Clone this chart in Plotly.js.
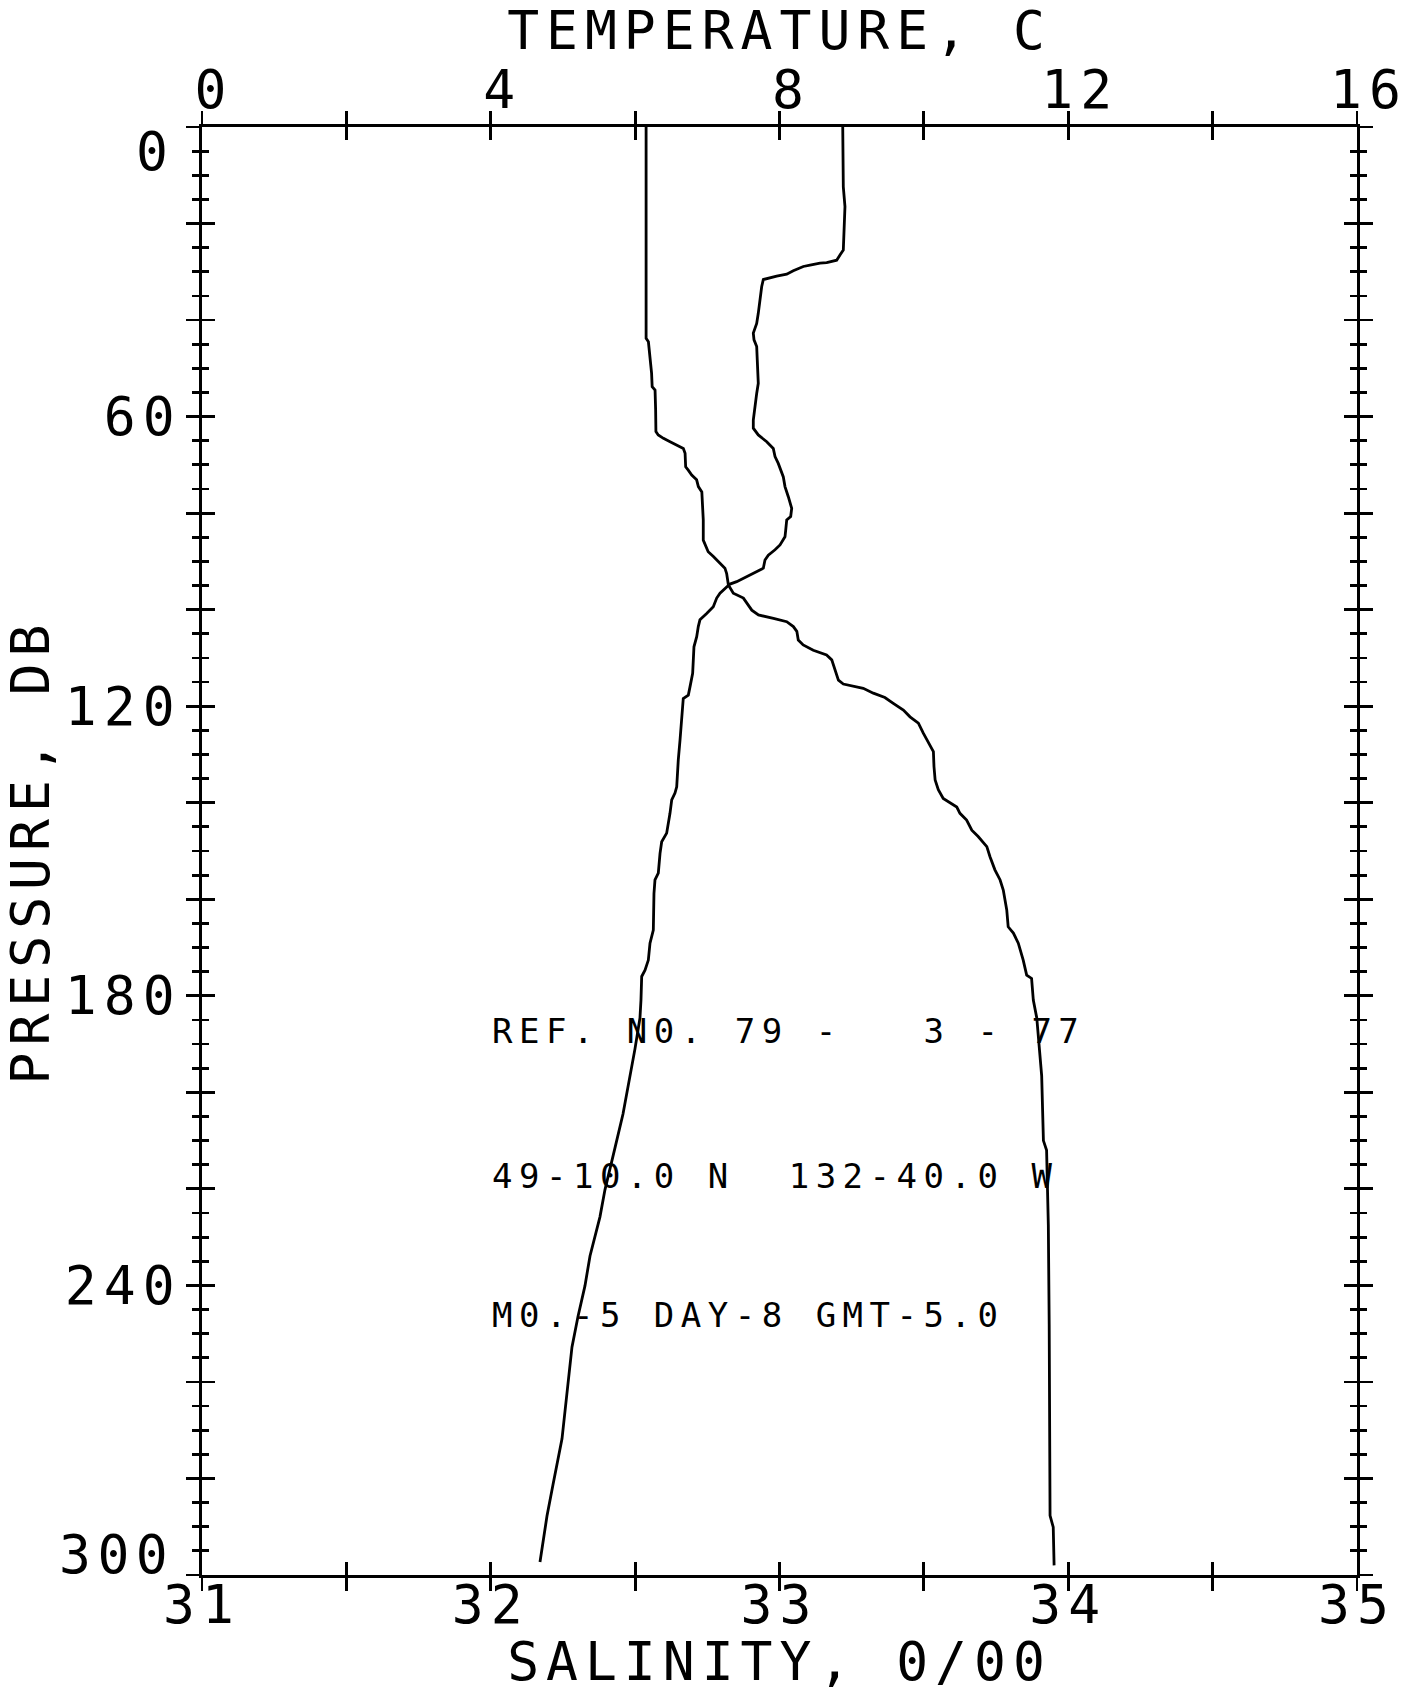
<!DOCTYPE html>
<html>
<head>
<meta charset="utf-8">
<script src="https://cdn.plot.ly/plotly-3.0.1.min.js"></script>
<style>
  html, body { margin: 0; padding: 0; background: #fff; }
  #chart { width: 1409px; height: 1692px; }
  g.xtick text, g.x2tick text, g.ytick text { letter-spacing: 7px; }
  text.xtitle, text.x2title, text.ytitle { letter-spacing: 7px; }
  text.annotation-text { letter-spacing: 6.5px; }
</style>
</head>
<body>
<div id="chart"></div>
<script>
// ---- Salinity profile (bottom axis, 0/00) ----
const salPressure = [0, 43.8, 44.5, 46.9, 51.0, 53.8, 54.5, 58.6, 63.1, 63.8, 64.5, 65.2, 65.7, 66.6, 67.6, 70.4, 71.1, 72.1, 73.1, 74.5, 75.6, 78.0, 81.4, 85.6, 87.0, 88.0, 89.0, 90.4, 91.4, 92.5, 93.9, 94.9,
  96.6, 97.6, 100.1, 101.1, 101.8, 102.5, 103.5, 104.5, 106.3, 107.3, 108.4, 109.4, 110.4, 112.5, 114.6, 115.4, 115.8, 116.3, 117.3, 118.2, 119.4, 120.8, 122.2, 123.5, 125.6, 128.0, 129.4, 132.5, 135.3, 137.3, 139.1, 140.9, 142.2, 143.6, 145.7, 147.0, 149.1, 151.2, 153.9, 156.0, 158.1, 162.2, 165.7, 167.0, 169.1, 172.6, 175.7, 176.4, 180.9,
  184.6, 196.6, 210.0, 212.0, 227.5, 248.1, 287.7, 290.1, 298.0];
const salinity = [32.538, 32.538, 32.546, 32.551, 32.557, 32.559, 32.569, 32.571, 32.572, 32.580, 32.598, 32.621, 32.638, 32.667, 32.673, 32.675, 32.684, 32.696, 32.713, 32.719, 32.731, 32.734, 32.736, 32.736, 32.745, 32.753, 32.771, 32.794, 32.811, 32.817, 32.819, 32.823,
  32.840, 32.875, 32.904, 32.927, 32.979, 33.025, 33.048, 33.060, 33.065, 33.082, 33.117, 33.163, 33.181, 33.192, 33.204, 33.221, 33.256, 33.290, 33.325, 33.365, 33.394, 33.429, 33.452, 33.481, 33.498, 33.521, 33.533, 33.535, 33.539, 33.550, 33.567, 33.614, 33.625, 33.648, 33.666, 33.688, 33.718, 33.729, 33.746, 33.764, 33.775, 33.787, 33.792, 33.810, 33.827, 33.844, 33.856, 33.873, 33.879,
  33.891, 33.908, 33.914, 33.925, 33.931, 33.934, 33.937, 33.948, 33.951];

// ---- Temperature profile (top axis, C) ----
const tempPressure = [0, 12.4, 16.5, 20.7, 25.5, 26.5, 27.6, 28.1, 28.2, 28.6, 28.9, 29.8, 30.5, 30.9, 31.6, 33.1, 36.5, 38.6, 40.7, 42.7, 44.1, 45.5, 48.3, 53.1, 55.2, 57.9, 60.7, 62.4, 63.8, 65.2, 66.6, 68.3, 69.7, 72.5, 74.5, 76.6, 79.0, 80.7, 81.4, 83.5, 84.9, 86.6, 87.6, 88.7, 89.7, 91.4, 92.5, 93.2, 94.2, 94.7,
  95.6, 96.6, 97.6, 99.4, 100.8, 102.1, 103.5, 105.6, 107.7, 110.4, 113.2, 116.0, 117.7, 118.4, 120.1, 124.2, 127.0, 131.1, 136.7, 138.0, 139.4, 142.2, 146.3, 148.1, 150.5, 154.6, 156.0, 158.8, 166.4, 169.1, 172.6, 174.7, 176.0, 180.9,
  184.6, 191.0, 196.6, 204.5, 211.5, 220.2, 225.8, 233.9, 240.1, 246.5, 252.8, 260.0, 271.8, 281.3, 287.8, 297.3];
const temperature = [8.876, 8.884, 8.907, 8.893, 8.884, 8.838, 8.792, 8.654, 8.561, 8.423, 8.330, 8.191, 8.100, 7.961, 7.776, 7.753, 7.730, 7.706, 7.684, 7.637, 7.647, 7.684, 7.692, 7.706, 7.684, 7.661, 7.637, 7.637, 7.706, 7.823, 7.914, 7.938, 7.983, 8.053, 8.076, 8.122, 8.169, 8.155, 8.100, 8.086, 8.076, 8.007, 7.938, 7.845, 7.799, 7.776, 7.637, 7.546, 7.407, 7.314,
  7.245, 7.176, 7.130, 7.083, 6.991, 6.898, 6.875, 6.853, 6.815, 6.806, 6.797, 6.760, 6.737, 6.667, 6.659, 6.645, 6.622, 6.598, 6.576, 6.552, 6.507, 6.483, 6.437, 6.368, 6.345, 6.321, 6.275, 6.261, 6.252, 6.206, 6.183, 6.137, 6.091, 6.081,
  6.067, 5.998, 5.929, 5.832, 5.721, 5.582, 5.513, 5.375, 5.305, 5.208, 5.125, 5.070, 4.987, 4.862, 4.779, 4.682];

// ---- Axis ticks ----
const pressureTicks = [0, 20, 40, 60, 80, 100, 120, 140, 160, 180, 200, 220, 240, 260, 280, 300];
const pressureLabels = ['0', '', '', '60', '', '', '120', '', '', '180', '', '', '240', '', '', '300'];
const tempTicks = [0, 2, 4, 6, 8, 10, 12, 14, 16];
const tempLabels = ['0', '', '4', '', '8', '', '12', '', '16'];
const salTicks = [31, 31.5, 32, 32.5, 33, 33.5, 34, 34.5, 35];
const salLabels = ['31', '', '32', '', '33', '', '34', '', '35'];

// ---- Station text ----
const stationLines = ['REF. N0. 79 -\u00a0\u00a0 3 - 77', '49-10.0 N\u00a0 132-40.0 W', 'M0.-5 DAY-8 GMT-5.0'];

const FONT = 'DejaVu Sans Mono, Liberation Mono, monospace';
const ink = '#000';
const lw = 2.8;

const majorTick = { ticklen: 13, tickwidth: lw, tickcolor: ink };

const traces = [
  { x: salinity, y: salPressure, xaxis: 'x', yaxis: 'y', mode: 'lines', line: { color: ink, width: 2.8 }, hoverinfo: 'skip' },
  { x: temperature, y: tempPressure, xaxis: 'x2', yaxis: 'y', mode: 'lines', line: { color: ink, width: 2.8 }, hoverinfo: 'skip' },
  { x: [], y: [], xaxis: 'x3', yaxis: 'y2', mode: 'lines', hoverinfo: 'skip' },
  { x: [], y: [], xaxis: 'x4', yaxis: 'y2', mode: 'lines', hoverinfo: 'skip' }
];

const tickFont = { family: FONT, size: 53, color: ink };

// The plotter set the end labels of the pressure axis inside the frame,
// so the first and last labels are drawn as shifted annotations.
const lastIdx = pressureTicks.length - 1;
const yAxisText = pressureLabels.map((t, i) => (i === 0 || i === lastIdx) ? '' : t);
const endLabels = [0, lastIdx].map(i => ({
  text: pressureLabels[i], xref: 'paper', yref: 'y',
  x: 0, y: pressureTicks[i], xanchor: 'right', yanchor: 'middle',
  xshift: -26, yshift: i === 0 ? -24 : 21,
  showarrow: false, font: tickFont
}));

const layout = {
  width: 1409, height: 1692,
  margin: { l: 202, r: 52, t: 127, b: 117, pad: 0 },
  paper_bgcolor: '#fff', plot_bgcolor: '#fff',
  showlegend: false,
  xaxis: {
    range: [31, 35], side: 'bottom', anchor: 'y',
    tickmode: 'array', tickvals: salTicks, ticktext: salLabels,
    ticks: 'outside', ...majorTick,
    showline: true, linewidth: lw, linecolor: ink, mirror: false,
    showgrid: false, zeroline: false,
    tickfont: tickFont, ticklabelstandoff: -31,
    title: { text: 'SALINITY, 0/00', font: { family: FONT, size: 53, color: ink }, standoff: 8 }
  },
  xaxis3: {
    range: [31, 35], side: 'bottom', anchor: 'y', overlaying: 'x',
    tickmode: 'array', tickvals: salTicks,
    ticks: 'inside', ...majorTick,
    showline: false, showgrid: false, zeroline: false, showticklabels: false
  },
  xaxis2: {
    range: [0, 16], side: 'top', anchor: 'y', overlaying: 'x',
    tickmode: 'array', tickvals: tempTicks, ticktext: tempLabels,
    ticks: 'outside', ...majorTick,
    showline: true, linewidth: lw, linecolor: ink,
    showgrid: false, zeroline: false,
    tickfont: tickFont, ticklabelstandoff: -18, ticklabelshift: 12,
    title: { text: 'TEMPERATURE, C', font: { family: FONT, size: 53, color: ink }, standoff: 0 }
  },
  xaxis4: {
    range: [0, 16], side: 'top', anchor: 'y', overlaying: 'x',
    tickmode: 'array', tickvals: tempTicks,
    ticks: 'inside', ...majorTick,
    showline: false, showgrid: false, zeroline: false, showticklabels: false
  },
  yaxis: {
    range: [300, 0], anchor: 'x',
    tickmode: 'array', tickvals: pressureTicks, ticktext: yAxisText,
    ticks: 'outside', ...majorTick,
    minor: { dtick: 5, tick0: 0, ticks: 'outside', ticklen: 7, tickwidth: lw, tickcolor: ink, showgrid: false },
    showline: true, linewidth: lw, linecolor: ink, mirror: 'ticks',
    showgrid: false, zeroline: false,
    tickfont: tickFont, ticklabelstandoff: -6,
    title: { text: 'PRESSURE, DB', font: { family: FONT, size: 53, color: ink }, standoff: 0 }
  },
  yaxis2: {
    range: [300, 0], anchor: 'x', overlaying: 'y',
    tickmode: 'array', tickvals: pressureTicks,
    ticks: 'inside', ...majorTick,
    minor: { dtick: 5, tick0: 0, ticks: 'inside', ticklen: 7, tickwidth: lw, tickcolor: ink, showgrid: false },
    showline: false, mirror: 'ticks',
    showgrid: false, zeroline: false, showticklabels: false
  },
  annotations: stationLines.map((t, i) => ({
    text: t, xref: 'paper', yref: 'paper',
    x: 0.2494, y: [0.3757, 0.2755, 0.1799][i],
    xanchor: 'left', yanchor: 'middle', showarrow: false,
    font: { family: FONT, size: 34, color: ink }
  })).concat(endLabels)
};

Plotly.newPlot('chart', traces, layout, { staticPlot: true, displayModeBar: false });
</script>
</body>
</html>
